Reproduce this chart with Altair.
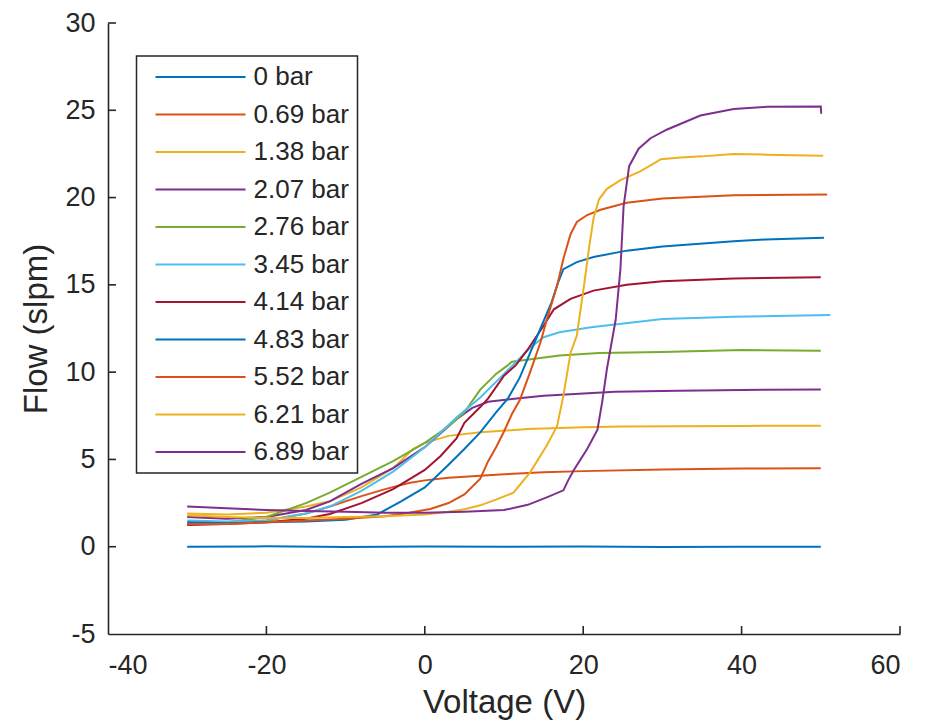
import altair as alt
import pandas as pd

series_names = ["0 bar", "0.69 bar", "1.38 bar", "2.07 bar", "2.76 bar", "3.45 bar",
                "4.14 bar", "4.83 bar", "5.52 bar", "6.21 bar", "6.89 bar"]
colors = ["#0072BD", "#D95319", "#EDB120", "#7E2F8E", "#77AC30", "#4DBEEE",
          "#A2142F", "#0072BD", "#D95319", "#EDB120", "#7E2F8E"]

x_ticks = [-40, -20, 0, 20, 40, 60]
y_ticks = [-5, 0, 5, 10, 15, 20, 25, 30]

v0 = [-30, -20, -10, 0, 10, 20, 30, 40, 50]
f0 = [0.0, 0.02, -0.01, 0.01, 0.0, 0.01, -0.01, 0.0, 0.0]

v1 = [-30, -25, -20, -15, -12, -8, -5, -2, 0, 3, 7, 10, 15, 20, 30, 40, 50]
f1 = [1.3, 1.35, 1.5, 1.9, 2.3, 2.9, 3.3, 3.65, 3.8, 3.95, 4.07, 4.15, 4.26, 4.33, 4.42, 4.48, 4.5]

v2 = [-30, -25, -20, -15, -12, -8, -4, -1.5, 0, 3, 7, 13, 20, 25, 32, 40, 50]
f2 = [1.9, 1.85, 1.95, 2.3, 2.6, 3.4, 4.5, 5.6, 5.95, 6.35, 6.55, 6.74, 6.84, 6.88, 6.9, 6.92, 6.93]

v3 = [-30, -25, -20, -15, -12, -8, -4, 0, 2, 4, 6, 8, 11, 15, 24, 32, 40, 50]
f3 = [1.7, 1.6, 1.7, 2.1, 2.6, 3.6, 4.5, 5.7, 6.5, 7.3, 7.95, 8.3, 8.46, 8.65, 8.88, 8.94, 8.98, 9.0]

v4 = [-30, -25, -20, -15, -12, -8, -4, 0, 3, 5, 7, 9, 10.5, 11, 17, 22, 30, 40, 50]
f4 = [1.3, 1.4, 1.7, 2.5, 3.1, 4.0, 4.9, 5.95, 6.9, 7.7, 9.0, 9.9, 10.4, 10.6, 10.95, 11.1, 11.15, 11.27, 11.23]

v5 = [-30, -25, -20, -15, -12, -8, -4, 0, 4, 7, 10, 12, 13.3, 15, 17, 21, 30, 39, 51.2]
f5 = [1.5, 1.45, 1.5, 1.9, 2.3, 3.2, 4.3, 5.7, 7.4, 8.55, 9.9, 10.8, 11.4, 12.0, 12.28, 12.57, 13.04, 13.18, 13.27]

v6 = [-30, -25, -20, -15, -12, -8, -4, 0, 2, 4, 5, 7, 8, 10, 11.5, 13, 15, 16.3, 18.4, 21.3, 25.5, 30, 39, 50]
f6 = [1.25, 1.3, 1.4, 1.6, 1.87, 2.5, 3.3, 4.4, 5.2, 6.2, 7.1, 8.0, 8.5, 9.8, 10.4, 11.3, 12.66, 13.6, 14.2, 14.67, 15.0, 15.2, 15.37, 15.43]

v7 = [-30, -25, -20, -15, -10, -6, -3, 0, 3, 5, 7, 9, 10.5, 12, 13.3, 14.6, 16, 16.8, 17.5, 19.2, 21.3, 25.5, 30, 39, 43, 50.4]
f7 = [1.4, 1.35, 1.4, 1.45, 1.55, 1.85, 2.6, 3.4, 4.7, 5.6, 6.55, 7.7, 8.5, 9.7, 11.1, 12.5, 14.0, 15.1, 15.9, 16.3, 16.6, 16.96, 17.2, 17.5, 17.6, 17.7]

v8 = [-30, -25, -20, -15, -10, -5, -2, 0.7, 3, 5, 7, 8, 9, 10, 11, 12, 13.3, 14.6, 15.4, 16.7, 17.5, 18.4, 19.2, 20.5, 22.2, 25.5, 30, 39, 50.8]
f8 = [1.3, 1.3, 1.4, 1.5, 1.6, 1.75, 1.95, 2.16, 2.5, 3.0, 3.9, 4.9, 5.7, 6.6, 7.6, 8.4, 10.0, 11.7, 13.0, 14.95, 16.5, 17.9, 18.6, 19.0, 19.3, 19.7, 19.95, 20.14, 20.17]

v9 = [-30, -25, -20, -15, -10, -5, 0, 3, 5, 7, 9, 11.2, 13.3, 15.4, 16.7, 17.5, 18.4, 19.2, 20.1, 20.7, 21.3, 22, 23, 24.7, 27.2, 29.1, 29.8, 32.3, 35, 39, 43, 50.3]
f9 = [1.8, 1.7, 1.65, 1.65, 1.7, 1.75, 1.85, 2.0, 2.15, 2.37, 2.7, 3.1, 4.26, 5.8, 6.9, 8.65, 11.1, 12.1, 14.95, 17.0, 18.8, 19.9, 20.5, 21.0, 21.5, 22.0, 22.2, 22.3, 22.36, 22.5, 22.46, 22.4]

v10 = [-30, -25, -20, -15, -10, -5, 0, 5, 10, 13, 15.4, 17.5, 18.1, 18.8, 20.5, 21.8, 22.4, 23, 24.1, 24.7, 25.1, 25.8, 27, 28.5, 30.6, 34.8, 39, 43.2, 50, 50.05]
f10 = [2.3, 2.2, 2.1, 2.05, 2.0, 1.95, 1.95, 2.0, 2.1, 2.4, 2.83, 3.23, 3.8, 4.38, 5.6, 6.7, 8.3, 10.2, 13.0, 15.9, 19.5, 21.8, 22.8, 23.4, 23.9, 24.7, 25.07, 25.2, 25.22, 24.8]

V_lists = [v0, v1, v2, v3, v4, v5, v6, v7, v8, v9, v10]
F_lists = [f0, f1, f2, f3, f4, f5, f6, f7, f8, f9, f10]

rows = []
for k, (name, vs, fs) in enumerate(zip(series_names, V_lists, F_lists)):
    for i, (v, f) in enumerate(zip(vs, fs)):
        rows.append({"series": name, "k": k, "V": v, "F": f, "i": i})
df = pd.DataFrame(rows)

W, H = 792, 611
FONT = "Liberation Sans"
INK = "#262626"
MINUS = "datum.value < 0 ? '-' + abs(datum.value) : '' + datum.value"

x_scale = alt.Scale(domain=[-40, 60], nice=False, zero=False)
y_scale = alt.Scale(domain=[-5, 30], nice=False, zero=False)

x_axis = alt.Axis(values=x_ticks, title="Voltage (V)", grid=False, ticks=False,
                  labelPadding=18, titlePadding=8, labelFontSize=27,
                  titleFontSize=33, titleFontWeight="normal", labelExpr=MINUS)
y_axis = alt.Axis(values=y_ticks, title="Flow (slpm)", grid=False, ticks=False,
                  labelPadding=13, titlePadding=11, labelFontSize=27,
                  titleFontSize=33, titleFontWeight="normal", labelExpr=MINUS)

lines = alt.Chart(df).mark_line(strokeWidth=2).encode(
    x=alt.X("V:Q", scale=x_scale, axis=x_axis),
    y=alt.Y("F:Q", scale=y_scale, axis=y_axis),
    color=alt.Color("series:N", sort=series_names,
                    scale=alt.Scale(domain=series_names, range=colors),
                    legend=alt.Legend(orient="none", legendX=28.5, legendY=33, title=None,
                                      symbolType="M-4.5,0H4.5", symbolSize=400,
                                      symbolStrokeWidth=2, labelFontSize=26,
                                      labelFont=FONT, labelColor=INK,
                                      strokeColor=INK, fillColor="white",
                                      padding=8, symbolOffset=43, labelOffset=40,
                                      rowPadding=11.5)),
    detail="k:N",
    order="i:Q",
)

xt = alt.Chart(pd.DataFrame({"t": x_ticks[1:]})).mark_rule(color=INK, strokeWidth=1.6).encode(
    x=alt.X("t:Q", scale=x_scale, axis=x_axis),
    y=alt.value(H), y2=alt.value(H - 8),
)
yt = alt.Chart(pd.DataFrame({"t": y_ticks[1:]})).mark_rule(color=INK, strokeWidth=1.6).encode(
    y=alt.Y("t:Q", scale=y_scale, axis=y_axis),
    x=alt.value(0), x2=alt.value(8),
)

chart = alt.layer(lines, xt, yt).properties(
    width=W, height=H,
    autosize=alt.AutoSizeParams(type="none"),
    padding={"left": 100, "top": 15, "right": 20, "bottom": 86},
).configure_view(stroke=None).configure_axis(
    domainColor=INK, domainWidth=1.6, labelColor=INK, titleColor=INK,
    labelFont=FONT, titleFont=FONT,
).configure_legend(strokeWidth=1.5)

chart.save("out.html", embed_options={"renderer": "svg", "actions": False})
